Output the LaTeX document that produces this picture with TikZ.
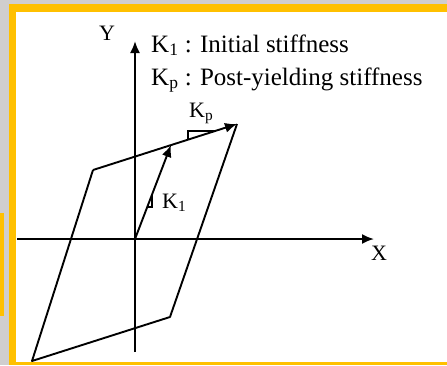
\documentclass[tikz,border=0pt]{standalone}
\usepackage{fontspec}
\setmainfont{Liberation Serif}
\usetikzlibrary{arrows.meta}
\definecolor{frameyellow}{RGB}{255,192,0}
\definecolor{pagegray}{RGB}{208,206,206}

\begin{document}
\begin{tikzpicture}[
  x=1pt, y=-1pt,
  lbl/.style = {inner sep=0pt, anchor=base west, font=\fontsize{#1}{#1}\selectfont},
  lbl/.default = 22,
  ln/.style  = {line width=1.9pt, line join=round},
  arr/.style = {ln, -{Latex[length=12pt,width=10pt]}},
  slope/.style = {line width=1.2pt}
]
  \useasboundingbox (0,0) rectangle (447,365);

  % background and frame
  \fill[white] (0,0) rectangle (447,365);
  \fill[pagegray] (0,0) rectangle (447,4);
  \fill[pagegray] (0,0) rectangle (9,365);
  \fill[frameyellow] (9,4) rectangle (447,12);
  \fill[frameyellow] (9,4) rectangle (16,365);
  \fill[frameyellow] (9,362) rectangle (447,365);
  \fill[frameyellow] (0,213) rectangle (4,316);

  % points of the loop
  \coordinate (O)  at (135,239);
  \coordinate (ytop) at (135,41);
  \coordinate (ybot) at (135,352);
  \coordinate (xleft) at (17,239);
  \coordinate (xright) at (374,239);
  \coordinate (k1tip) at (171,145);
  \coordinate (tl) at (93,170);
  \coordinate (tr) at (237,124);
  \coordinate (br) at (170,317);
  \coordinate (bl) at (32,361);

  % axes
  \draw[arr] (ybot) -- (ytop);
  \draw[arr] (xleft) -- (xright);
  \node[lbl] (ylab) at (99,40) {Y};
  \node[lbl] (xlab) at (371,260) {X};

  % hysteresis loop
  \draw[arr] (O) -- (k1tip);
  \draw[arr] (tl) -- (tr);
  \draw[ln] (tr) -- (br) -- (bl) -- (tl);

  % slope marks
  \draw[slope] (147.5,207) -- (152,207) -- (152,194);
  \draw[slope] (188,140) -- (188,131) -- (216,131);
  \node[lbl] (k1lab) at (162,208) {K\textsubscript{1}};
  \node[lbl] (kplab) at (189,117) {K\textsubscript{p}};

  % legend
  \node[lbl=25] (leg1) at (151,52) {K\textsubscript{1} : Initial stiffness};
  \node[lbl=25] (leg2) at (151,85) {K\textsubscript{p} : Post-yielding stiffness};
\end{tikzpicture}
\end{document}
